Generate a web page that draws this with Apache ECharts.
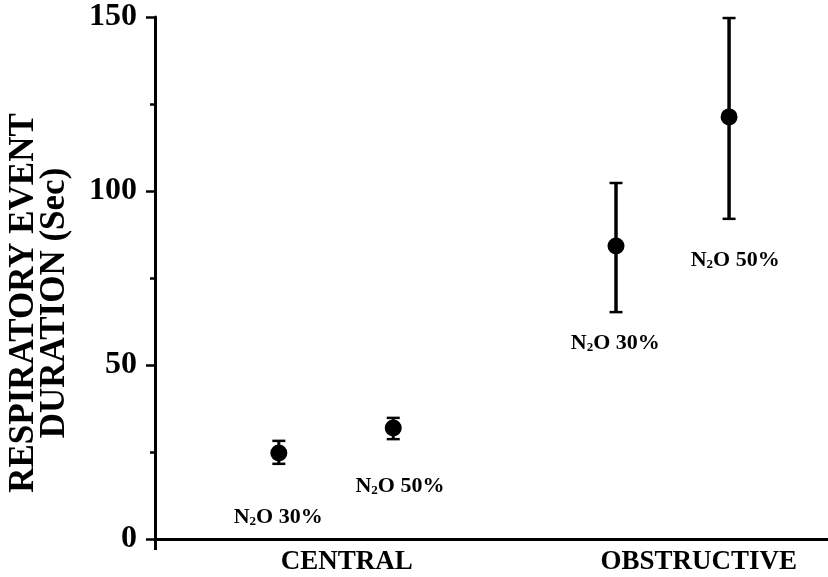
<!DOCTYPE html>
<html>
<head>
<meta charset="utf-8">
<script src="https://cdn.jsdelivr.net/npm/echarts@6/dist/echarts.min.js"></script>
<style>html,body{margin:0;padding:0;background:#fff}#c{width:828px;height:577px}</style>
</head>
<body>
<div id="c"></div>
<script>
// Data
var categories = ['CENTRAL', 'OBSTRUCTIVE'];
var categoryX = [28.5, 80.8];
var groupNames = ['N{s|2}O 30%', 'N{s|2}O 50%', 'N{s|2}O 30%', 'N{s|2}O 50%'];
var pointX = [18.4, 35.4, 68.5, 85.3];
var means = [24.7, 31.9, 84.2, 121.3];
var lower = [21.6, 28.7, 65.2, 92.0];
var upper = [28.2, 34.8, 102.3, 149.7];
var labelX = [18.3, 36.4, 68.4, 86.2];
var labelY = [6.3, 15.2, 56.3, 80.2];

var serif = 'Liberation Serif';
var chart = echarts.init(document.getElementById('c'));

var errData = pointX.map(function (x, i) { return [x, lower[i], upper[i]]; });
var ptData = pointX.map(function (x, i) { return [x, means[i]]; });
var lblData = labelX.map(function (x, i) { return {value: [x, labelY[i]], name: groupNames[i]}; });

chart.setOption({
  animation: false,
  grid: {left: 155, right: 0, top: 17, bottom: 38, containLabel: false, outerBoundsMode: 'none'},
  xAxis: {
    type: 'value', min: 0, max: 100,
    splitLine: {show: false},
    axisLine: {show: true, lineStyle: {color: '#000', width: 3}},
    axisTick: {show: true, customValues: [0], length: 11, lineStyle: {color: '#000', width: 3}},
    axisLabel: {
      customValues: categoryX,
      margin: 10,
      color: '#000', fontFamily: serif, fontWeight: 'bold', fontSize: 27,
      formatter: function (v) { return categories[categoryX.indexOf(v)]; }
    }
  },
  yAxis: {
    type: 'value', min: 0, max: 150, interval: 50,
    splitLine: {show: false},
    axisLine: {show: true, lineStyle: {color: '#000', width: 3}},
    axisTick: {show: true, length: 9, lineStyle: {color: '#000', width: 2.5}},
    minorTick: {show: true, splitNumber: 2, length: 5, lineStyle: {color: '#000', width: 2.5}},
    axisLabel: {margin: 18, color: '#000', fontFamily: serif, fontWeight: 'bold', fontSize: 32},
    name: 'RESPIRATORY EVENT\nDURATION (Sec)',
    nameLocation: 'middle', nameRotate: 90, nameGap: 85,
    nameTextStyle: {color: '#000', fontFamily: serif, fontWeight: 'bold', fontSize: 35, lineHeight: 31, padding: [0, 50, 0, 0]}
  },
  series: [
    {
      type: 'custom',
      data: errData,
      z: 2,
      renderItem: function (params, api) {
        var x = api.value(0);
        var lo = api.coord([x, api.value(1)]);
        var hi = api.coord([x, api.value(2)]);
        var w = 6.5;
        var lw = params.dataIndex >= 2 ? 3.5 : 3;
        var st = {stroke: '#000', lineWidth: lw};
        var cs = {stroke: '#000', lineWidth: 2.5};
        return {
          type: 'group',
          children: [
            {type: 'line', shape: {x1: hi[0], y1: hi[1], x2: lo[0], y2: lo[1]}, style: st},
            {type: 'line', shape: {x1: hi[0] - w, y1: hi[1], x2: hi[0] + w, y2: hi[1]}, style: cs},
            {type: 'line', shape: {x1: lo[0] - w, y1: lo[1], x2: lo[0] + w, y2: lo[1]}, style: cs}
          ]
        };
      }
    },
    {
      type: 'scatter',
      data: ptData,
      symbol: 'circle', symbolSize: 17,
      itemStyle: {color: '#000', opacity: 1},
      z: 3
    },
    {
      type: 'scatter',
      data: lblData,
      symbolSize: 0,
      silent: true,
      itemStyle: {opacity: 1},
      label: {
        show: true, position: 'inside', opacity: 1,
        formatter: function (p) { return p.name; },
        color: '#000', fontFamily: serif, fontWeight: 'bold', fontSize: 22,
        rich: {
          s: {fontSize: 13, fontFamily: serif, fontWeight: 'bold', color: '#000', verticalAlign: 'bottom', padding: [8, 0, 0, 0]}
        }
      }
    }
  ]
});
</script>
</body>
</html>
